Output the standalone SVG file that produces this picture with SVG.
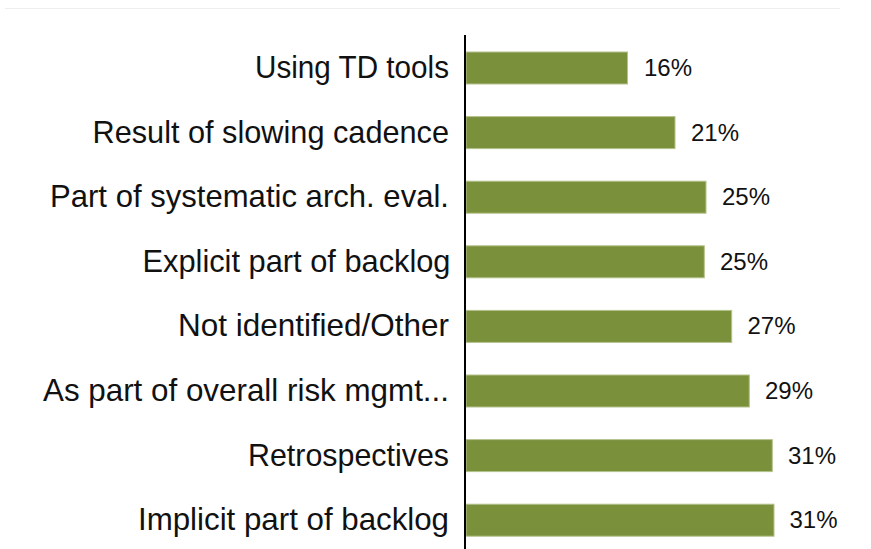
<svg xmlns="http://www.w3.org/2000/svg" width="871" height="549" viewBox="0 0 871 549">
<style>
.lbl{font-family:"Liberation Sans",Arial,sans-serif;font-size:30.5px;fill:#111;text-anchor:end}
.val{font-family:"Liberation Sans",Arial,sans-serif;font-size:24px;fill:#111}
.bar{fill:#7b903b;stroke:#b4c28c;stroke-width:1}
</style>
<rect width="871" height="549" fill="#fff"/>
<line x1="5" y1="8.5" x2="840" y2="8.5" stroke="#eeeeee" stroke-width="1"/>
<g id="row1"><text class="lbl" x="449" y="78" textLength="194" lengthAdjust="spacingAndGlyphs">Using TD tools</text><rect class="bar" x="466" y="52" width="161.5" height="32"/><text class="val" x="644" y="76">16%</text></g>
<g id="row2"><text class="lbl" x="449" y="142.6" textLength="356.5" lengthAdjust="spacingAndGlyphs">Result of slowing cadence</text><rect class="bar" x="466" y="116.6" width="209" height="32"/><text class="val" x="691" y="140.6">21%</text></g>
<g id="row3"><text class="lbl" x="449" y="207.2" textLength="399" lengthAdjust="spacingAndGlyphs">Part of systematic arch. eval.</text><rect class="bar" x="466" y="181.2" width="240" height="32"/><text class="val" x="722" y="205.2">25%</text></g>
<g id="row4"><text class="lbl" x="450.5" y="271.8" textLength="308" lengthAdjust="spacingAndGlyphs">Explicit part of backlog</text><rect class="bar" x="466" y="245.8" width="238.3" height="32"/><text class="val" x="720" y="269.8">25%</text></g>
<g id="row5"><text class="lbl" x="449" y="336.4" textLength="271" lengthAdjust="spacingAndGlyphs">Not identified/Other</text><rect class="bar" x="466" y="310.4" width="265.7" height="32"/><text class="val" x="747.5" y="334.4">27%</text></g>
<g id="row6"><text class="lbl" x="449" y="401" textLength="406" lengthAdjust="spacingAndGlyphs">As part of overall risk mgmt...</text><rect class="bar" x="466" y="375" width="283.3" height="32"/><text class="val" x="765" y="399">29%</text></g>
<g id="row7"><text class="lbl" x="449" y="465.6" textLength="201" lengthAdjust="spacingAndGlyphs">Retrospectives</text><rect class="bar" x="466" y="439.6" width="306.3" height="32"/><text class="val" x="788" y="463.6">31%</text></g>
<g id="row8"><text class="lbl" x="449" y="530.2" textLength="311" lengthAdjust="spacingAndGlyphs">Implicit part of backlog</text><rect class="bar" x="466" y="504.2" width="308" height="32"/><text class="val" x="789.5" y="528.2">31%</text></g>
<g id="connectors"><line x1="465" y1="35" x2="465" y2="549" stroke="#000" stroke-width="2"/></g>
</svg>
